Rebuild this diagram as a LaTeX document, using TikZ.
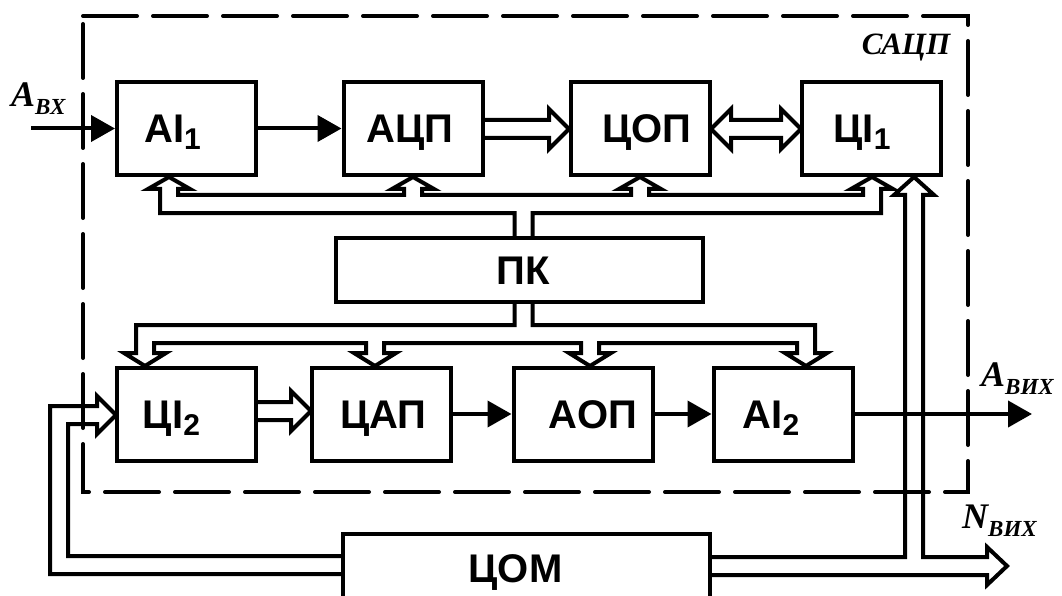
\documentclass[tikz,border=0pt]{standalone}
\usepackage{fontspec}
\usetikzlibrary{arrows.meta,calc}
\newfontfamily\lsans{Liberation Sans}
\newfontfamily\lserif{Liberation Serif}
\newcommand\mysub[1]{{\fontsize{30}{30}\selectfont\raisebox{-7pt}{#1}}}
\newcommand\lblsub[1]{{\fontsize{23}{24}\selectfont\raisebox{-8pt}{#1}}}
\begin{document}
\begin{tikzpicture}[x=1pt,y=-1pt,
  blk/.style={draw,line width=4pt,minimum width=139pt,minimum height=93pt,inner sep=0pt,
    text height=29pt,text depth=0pt,
    font=\lsans\bfseries\fontsize{40}{44}\selectfont},
  arr/.style={line width=4pt,-{Triangle[length=24pt,width=26pt]}},
  bus/.style={line width=4pt,line join=miter},
  frame/.style={line width=4pt,dash pattern=on 54pt off 16pt,line cap=round},
  lbl/.style={font=\lserif\bfseries\itshape\fontsize{36}{40}\selectfont,inner sep=0pt,anchor=base west}]
\useasboundingbox (0,0) rectangle (1062,596);
\clip (0,0) rectangle (1062,596);
\fill[white] (0,0) rectangle (1062,596);

% dashed frame
\draw[frame] (83,16) -- (968,16) -- (968,492) -- (83,492) -- cycle;
\node[font=\lserif\bfseries\itshape\fontsize{31}{34}\selectfont,inner sep=0pt] (sacp) at (906,48) {САЦП};

% blocks
\node[blk] (ai1) at (186.5,128.5) {\hspace*{-28pt}АІ\mysub{1}};
\node[blk] (adc) at (413,128.5) {\hspace*{-6pt}АЦП};
\node[blk] (cop) at (640,128.5) {\hspace*{14pt}ЦОП};
\node[blk] (ci1) at (871,128.5) {\hspace*{-18pt}ЦІ\mysub{1}};
\node[blk] (ci2) at (186.5,414) {\hspace*{-30pt}ЦІ\mysub{2}};
\node[blk] (dac) at (381.5,414) {\hspace*{4pt}ЦАП};
\node[blk] (aop) at (583,414) {\hspace*{20pt}АОП};
\node[blk] (ai2) at (783,414) {\hspace*{-24pt}АІ\mysub{2}};
\node[blk,minimum width=367pt,minimum height=64pt] (pk) at (519.5,270) {\hspace*{8pt}ПК};
\node[blk,minimum width=367pt,minimum height=67pt] (com) at (526.5,567.5) {\hspace*{-22pt}ЦОМ};

% single arrows
\coordinate (in) at (31,128.5);
\coordinate (out) at (1032,414);
\draw[arr] (in) -- (ai1.west);
\draw[arr] (ai1.east) -- (adc.west);
\draw[arr] (dac.east) -- (aop.west);
\draw[arr] (aop.east) -- (ai2.west);
\draw[arr] (ai2.east) -- (out);

% double-line arrows
\draw[bus] (adc.east |- 0,120) -- (549,120) -- (549,109) -- (569,129) -- (549,149) -- (549,138) -- (adc.east |- 0,138);
\draw[bus] (711,129) -- (731,109) -- (731,120) -- (781,120) -- (781,109) -- (801,129) -- (781,149) -- (781,138) -- (731,138) -- (731,149) -- cycle;
\draw[bus] (ci2.east |- 0,402) -- (291,402) -- (291,391) -- (311,411) -- (291,431) -- (291,420) -- (ci2.east |- 0,420);

% control bus up from PK
\draw[bus] ([xshift=-5pt]pk.north) |- (160,213) -- (160,189) -- (148,189) -- (169,177) -- (190,189) -- (178,189)
  -- (178,195) -- (404,195) -- (404,189) -- (392,189) -- (413,177) -- (434,189) -- (422,189)
  -- (422,195) -- (631,195) -- (631,189) -- (619,189) -- (640,177) -- (661,189) -- (649,189)
  -- (649,195) -- (863,195) -- (863,189) -- (851,189) -- (872,177) -- (893,189) -- (881,189)
  -- (881,213) -| ([xshift=13pt]pk.north);

% control bus down from PK
\draw[bus] ([xshift=-5pt]pk.south) |- (136,325) -- (136,353) -- (124,353) -- (145,366) -- (166,353) -- (154,353)
  -- (154,343) -- (366,343) -- (366,353) -- (354,353) -- (375,366) -- (396,353) -- (384,353)
  -- (384,343) -- (581,343) -- (581,353) -- (569,353) -- (590,366) -- (611,353) -- (599,353)
  -- (599,343) -- (797,343) -- (797,353) -- (785,353) -- (806,366) -- (827,353) -- (815,353)
  -- (815,325) -| ([xshift=13pt]pk.south);

% bus from COM to CI2
\draw[bus] (com.west |- 0,556) -- (68,556) -- (68,424) -- (97,424) -- (97,434) -- (116,415) -- (97,396) -- (97,406)
  -- (50,406) -- (50,574) -- (com.west |- 0,574);

% bus from COM to CI1 and N output
\draw[bus] (com.east |- 0,557) -- (905,557) -- (905,195) -- (894,195) -- (914,177) -- (934,195) -- (923,195)
  -- (923,557) -- (987,557) -- (987,547) -- (1007,566) -- (987,585) -- (987,575) -- (com.east |- 0,575);

% labels
\node[lbl] (abx) at (11,107) {A\lblsub{ВХ}};
\node[lbl] (avyx) at (981,386) {A\lblsub{ВИХ}};
\node[lbl] (nvyx) at (962,528) {N\lblsub{ВИХ}};
\end{tikzpicture}
\end{document}
